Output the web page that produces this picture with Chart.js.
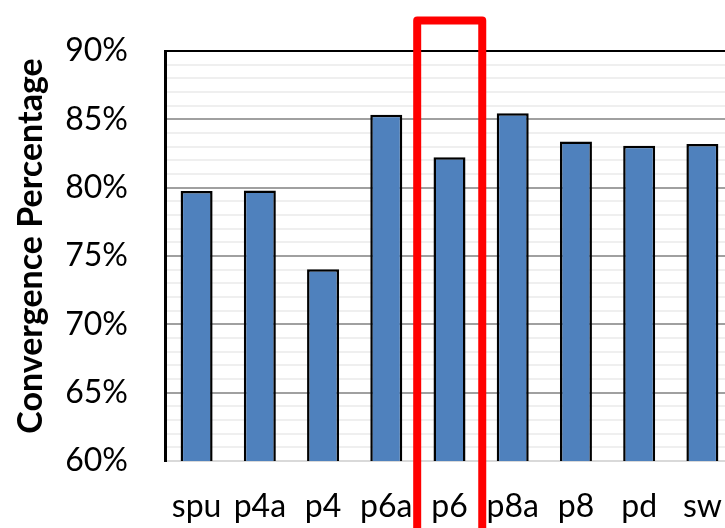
<!DOCTYPE html>
<html>
<head>
<meta charset="utf-8">
<script src="https://cdn.jsdelivr.net/npm/chart.js@4/dist/chart.umd.min.js"></script>
<style>
  html, body { margin: 0; padding: 0; background: #fff; overflow: hidden; }
  #wrap { width: 760px; height: 528px; }
</style>
</head>
<body>
<div id="wrap"><canvas id="c" width="760" height="528"></canvas></div>
<script>
// Convergence percentage per configuration
const categories = ['spu', 'p4a', 'p4', 'p6a', 'p6', 'p8a', 'p8', 'pd', 'sw'];
const convergence = [79.76, 79.8, 74.03, 85.34, 82.22, 85.44, 83.37, 83.07, 83.2];
const yMin = 60;
const yMax = 90;
const highlighted = 'p6';
const yTitle = 'Convergence Percentage';

// Outline drawn around the highlighted configuration's column
const highlightBox = {
  id: 'highlightBox',
  afterDraw(chart) {
    const x = chart.scales.x;
    const idx = categories.indexOf(highlighted);
    const cw = (x.right - x.left) / categories.length;
    const cx = x.getPixelForValue(idx);
    const left = cx - 0.511 * cw;
    const right = cx + 0.518 * cw;
    const top = chart.chartArea.top - 30.5;
    const bottom = chart.height + 20;
    const ctx = chart.ctx;
    ctx.save();
    ctx.strokeStyle = '#ff0000';
    ctx.lineWidth = 8;
    ctx.lineJoin = 'round';
    ctx.beginPath();
    ctx.moveTo(left, bottom);
    ctx.lineTo(left, top);
    ctx.lineTo(right, top);
    ctx.lineTo(right, bottom);
    ctx.stroke();
    ctx.restore();
  }
};

// Rotated y-axis title, placed a little above the plot's middle
const axisTitle = {
  id: 'axisTitle',
  afterDraw(chart) {
    const area = chart.chartArea;
    const ctx = chart.ctx;
    ctx.save();
    ctx.translate(31, (area.top + area.bottom) / 2 - 10);
    ctx.rotate(-Math.PI / 2);
    ctx.fillStyle = '#000';
    ctx.font = 'bold 34px Lato';
    ctx.textAlign = 'center';
    ctx.textBaseline = 'middle';
    ctx.fillText(yTitle, 0, 0);
    ctx.restore();
  }
};

new Chart(document.getElementById('c'), {
  type: 'bar',
  data: {
    labels: categories,
    datasets: [{
      data: convergence,
      backgroundColor: '#4F81BD',
      borderColor: '#000000',
      borderWidth: 2.5,
      categoryPercentage: 1,
      barPercentage: 0.506
    }]
  },
  options: {
    responsive: false,
    animation: false,
    devicePixelRatio: 1,
    layout: { padding: { top: 51, right: 26, left: 0, bottom: 0 } },
    plugins: { legend: { display: false }, tooltip: { enabled: false } },
    scales: {
      x: {
        grid: { display: false, drawTicks: false },
        border: { display: true, color: '#d9d9d9', width: 2 },
        ticks: {
          color: '#000',
          font: { family: 'Lato', size: 32 },
          padding: 26,
          maxRotation: 0,
          autoSkip: false
        },
        afterFit(scale) { scale.height = 67; }
      },
      y: {
        min: yMin,
        max: yMax,
        grid: {
          drawTicks: false,
          lineWidth: 2,
          color(ctx) {
            const v = ctx.tick ? ctx.tick.value : null;
            if (v === yMax) return '#000000';
            if (v === yMin) return '#d9d9d9';
            return v % 5 === 0 ? '#a0a0a0' : '#efefef';
          }
        },
        border: { display: true, color: '#000', width: 3 },
        ticks: {
          stepSize: 1,
          autoSkip: false,
          color: '#000',
          font: { family: 'Lato', size: 32 },
          padding: 37,
          callback(v) { return v % 5 === 0 ? v + '%' : ''; }
        },
        afterFit(scale) {
          scale.width = 165;
          scale.paddingTop = 0;
          scale.paddingBottom = 0;
        }
      }
    }
  },
  plugins: [highlightBox, axisTitle]
});
</script>
</body>
</html>
